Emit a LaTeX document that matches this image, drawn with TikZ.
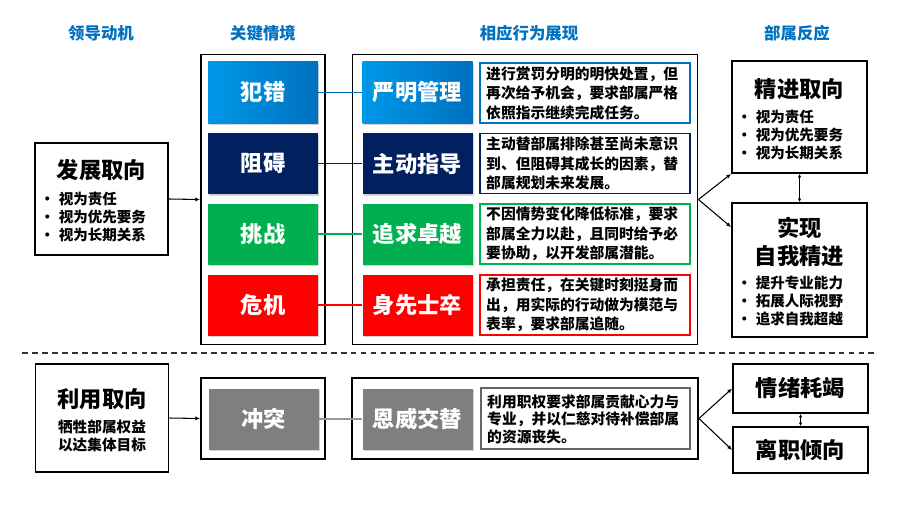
\documentclass[tikz,border=0pt]{standalone}
\usepackage{fontspec}
\setmainfont{Noto Sans CJK SC}
\usepackage{xcolor}
\usetikzlibrary{arrows.meta}
\usetikzlibrary{shadows}

\definecolor{hdblue}{RGB}{0,112,192}
\definecolor{errblue}{RGB}{0,152,232}
\definecolor{navy}{RGB}{0,32,96}
\definecolor{okgreen}{RGB}{0,176,80}
\definecolor{alarmred}{RGB}{255,0,0}
\definecolor{midgray}{RGB}{127,127,127}
\definecolor{linegray}{RGB}{150,150,150}

\begin{document}
\begin{tikzpicture}[x=0.03cm, y=-0.03cm, font=\bfseries,
	frame/.style={draw=black, line width=1.6pt, inner sep=0pt},
	tag/.style={fill=#1, text=white, inner sep=0pt, minimum width=3.3cm, minimum height=1.83cm,
		font=\fontsize{19}{19}\selectfont\bfseries,
		drop shadow={shadow xshift=1.2pt, shadow yshift=-1.4pt, opacity=0.35}},
	note/.style={draw=#1, line width=1.1pt, fill=white, inner sep=0pt, minimum width=6.3cm, minimum height=1.8cm},
	notetext/.style={anchor=west, align=left, inner sep=0pt, font=\fontsize{12.6}{16.6}\selectfont\bfseries},
	head/.style={text=hdblue, font=\fontsize{14}{14}\selectfont\bfseries},
	title/.style={align=center, inner sep=0pt, font=\fontsize{19}{24}\selectfont\bfseries},
	items/.style={anchor=west, align=left, inner sep=0pt, font=\fontsize{12.4}{15.4}\selectfont\bfseries},
	link/.style={line width=1pt},
	arr/.style={-{Latex[length=4pt,width=3.5pt]}, line width=0.9pt},
	darr/.style={{Latex[length=3pt,width=3pt]}-{Latex[length=3pt,width=3pt]}, line width=0.9pt}]
	\useasboundingbox (0,0) rectangle (900,506);
	
	\node [head] (h1) at (101,33) {领导动机};
	\node [head] (h2) at (263,33) {关键情境};
	\node [head] (h3) at (529,33) {相应行为展现};
	\node [head] (h4) at (797,33) {部属反应};
	
	\node [frame, minimum width=3.99cm, minimum height=3.36cm] (dev) at (101.5,199) {};
	\node [title] (devt) at (101.5,170) {发展取向};
	\node [items] (devl) at (40,217) {\textbullet\hspace{3.5pt}视为责任\\\textbullet\hspace{3.5pt}视为优先要务\\\textbullet\hspace{3.5pt}视为长期关系};
	
	\node [frame, minimum width=3.72cm, minimum height=8.7cm] (sit) at (263,199.5) {};
	\node [frame, minimum width=10.35cm, minimum height=8.7cm] (beh) at (525,199.5) {};
	
	\node [tag=hdblue, left color=errblue, right color=hdblue] (s1) at (263,92.5) {犯错};
	\node [tag=navy] (s2) at (263,163.5) {阻碍};
	\node [tag=okgreen] (s3) at (263,234) {挑战};
	\node [tag=alarmred] (s4) at (263,305) {危机};
	
	\node [tag=hdblue, left color=errblue, right color=hdblue] (b1) at (417.5,92.5) {严明管理};
	\node [tag=navy] (b2) at (417.5,163.5) {主动指导};
	\node [tag=okgreen] (b3) at (417.5,234) {追求卓越};
	\node [tag=alarmred] (b4) at (417.5,305) {身先士卒};
	
	\node [note=hdblue] (n1) at (585,93) {};
	\node [note=navy] (n2) at (585,163.5) {};
	\node [note=okgreen] (n3) at (585,234) {};
	\node [note=alarmred] (n4) at (585,305) {};
	\node [notetext] (t1) at (486,93) {进行赏罚分明的明快处置，但\\再次给予机会，要求部属严格\\依照指示继续完成任务。};
	\node [notetext] (t2) at (486,163.5) {主动替部属排除甚至尚未意识\\到、但阻碍其成长的因素，替\\部属规划未来发展。};
	\node [notetext] (t3) at (486,234) {不因情势变化降低标准，要求\\部属全力以赴，且同时给予必\\要协助，以开发部属潜能。};
	\node [notetext] (t4) at (486,305) {承担责任，在关键时刻挺身而\\出，用实际的行动做为模范与\\表率，要求部属追随。};
	
	\draw [link, hdblue] (s1) to (b1);
	\draw [link, navy] (s2) to (b2);
	\draw [link, okgreen] (s3) to (b3);
	\draw [link, alarmred] (s4) to (b4);
	
	\node [frame, minimum width=4.05cm, minimum height=3.36cm] (adv) at (799.5,117) {};
	\node [title] (advt) at (799.5,89) {精进取向};
	\node [items] (advl) at (737,135) {\textbullet\hspace{3.5pt}视为责任\\\textbullet\hspace{3.5pt}视为优先要务\\\textbullet\hspace{3.5pt}视为长期关系};
	\node [frame, minimum width=4.05cm, minimum height=4.02cm] (self) at (799.5,270) {};
	\node [title] (selft) at (799.5,242) {实现\\自我精进};
	\node [items] (selfl) at (737,301) {\textbullet\hspace{3.5pt}提升专业能力\\\textbullet\hspace{3.5pt}拓展人际视野\\\textbullet\hspace{3.5pt}追求自我超越};
	
	\draw [arr] (dev.east) to (sit.west);
	\draw [arr] (beh.east) to (adv.south west);
	\draw [arr] (beh.east) to ([yshift=-0.75cm]self.north west);
	\draw [darr] (adv.south) to (self.north);
	
	\draw [dashed, line width=1pt, dash pattern=on 5pt off 3.5pt, black!80] (22,353) -- (875,353);
	
	\node [frame, minimum width=3.99cm, minimum height=3.24cm] (use) at (102,418) {};
	\node [title] (uset) at (102,399) {利用取向};
	\node [align=center, inner sep=0pt, font=\fontsize{12.5}{15.4}\selectfont\bfseries] (usel) at (102,436) {牺牲部属权益\\以达集体目标};
	
	\node [frame, minimum width=3.72cm, minimum height=2.43cm] (con) at (263,418.5) {};
	\node [frame, minimum width=10.38cm, minimum height=2.43cm] (beh2) at (525,418.5) {};
	\node [tag=midgray] (s5) at (263.5,419) {冲突};
	\node [tag=midgray] (b5) at (417.5,419) {恩威交替};
	\node [note=black!60, minimum width=6.27cm, minimum height=1.83cm] (n5) at (585.5,418.5) {};
	\node [notetext, font=\fontsize{12.6}{15}\selectfont\bfseries] (t5) at (487,419) {利用职权要求部属贡献心力与\\专业，并以仁慈对待补偿部属\\的资源丧失。};
	\draw [link, linegray] (s5) to (b5);
	
	\node [frame, minimum width=4.05cm, minimum height=1.47cm, title] (emo) at (800.5,388.5) {情绪耗竭};
	\node [frame, minimum width=4.05cm, minimum height=1.38cm, title] (quit) at (800.5,450) {离职倾向};
	
	\draw [arr] (use.east) to (con.west);
	\draw [arr] (beh2.east) to (emo.west);
	\draw [arr] (beh2.east) to (quit.west);
	\draw [darr] (emo.south) to (quit.north);
	
\end{tikzpicture}
\end{document}
